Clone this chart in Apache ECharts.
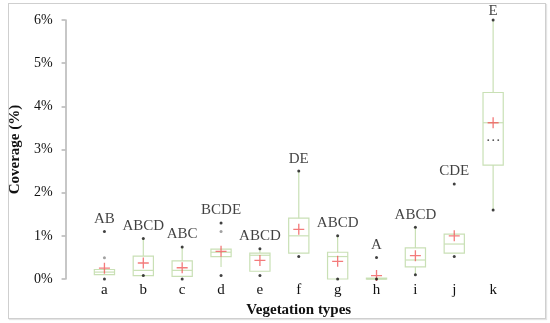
<!DOCTYPE html>
<html><head><meta charset="utf-8">
<script src="https://cdn.jsdelivr.net/npm/echarts@6/dist/echarts.min.js"></script>
<style>html,body{margin:0;padding:0;background:#fff}#frame{position:absolute;left:8px;top:3px;width:536px;height:314px;border:1px solid #cfcfcf;box-shadow:1px 1px 1px #e4e4e4}#c{width:550px;height:323px;position:absolute;left:0;top:0}</style>
</head><body><div id="frame"></div><div id="c"></div>
<script>
var categories = ['a','b','c','d','e','f','g','h','i','j','k'];
var whiskerLow  = [0.10, 0.08, 0.06, 0.28, 0.18, 0.60, 0.00, 0.00, 0.10, 0.60, 1.60];
var q1          = [0.10, 0.08, 0.06, 0.52, 0.18, 0.60, 0.00, 0.00, 0.28, 0.60, 2.64];
var median      = [0.16, 0.20, 0.20, 0.62, 0.55, 1.00, 0.52, 0.00, 0.44, 0.81, 3.62];
var q3          = [0.22, 0.53, 0.42, 0.69, 0.60, 1.41, 0.62, 0.02, 0.72, 1.04, 4.32];
var whiskerHigh = [0.22, 0.94, 0.74, 0.69, 0.70, 2.50, 1.00, 0.02, 1.20, 1.04, 6.00];
var mean        = [0.25, 0.37, 0.26, 0.64, 0.43, 1.15, 0.41, 0.08, 0.54, 1.00, 3.62];
var maxDot      = [1.10, 0.94, 0.74, 1.30, 0.70, 2.50, 1.00, 0.50, 1.20, 2.20, 6.00];
var minDot      = [0.00, 0.08, 0.00, 0.08, 0.08, 0.52, 0.00, 0.00, 0.10, 0.52, 1.60];
var grayDots    = [[1, 0.49], [4, 1.10]];
var groupLetters = ['AB','ABCD','ABC','BCDE','ABCD','DE','ABCD','A','ABCD','CDE','E'];
var extraMark   = [[11, 3.20]];
var yTicks = [0,1,2,3,4,5,6];

var boxData = categories.map(function(c,i){return [i+1, whiskerLow[i], q1[i], median[i], q3[i], whiskerHigh[i]];});
var meanData = categories.map(function(c,i){return [i+1, mean[i]];});
var dotData = [];
categories.forEach(function(c,i){dotData.push([i+1,maxDot[i]]);dotData.push([i+1,minDot[i]]);});
var letterData = categories.map(function(c,i){return {value:[i+1,maxDot[i]], label:{show:true, formatter:groupLetters[i], distance: i===10?1:5}};});

var boxColor = '#c9e0b5';
var chart = echarts.init(document.getElementById('c'));
chart.setOption({
  animation:false,
  grid:{left:63,right:18,top:20,bottom:44},
  xAxis:{type:'value',min:0,max:12,interval:1,
    axisLine:{show:false},axisTick:{show:false},splitLine:{show:false},
    axisLabel:{fontFamily:'Liberation Serif',fontSize:15,color:'#111',margin:4,
      formatter:function(v){return categories[v-1]||'';}},
    name:'Vegetation types',nameLocation:'middle',nameGap:16,
    nameTextStyle:{fontFamily:'Liberation Serif',fontSize:15,fontWeight:'bold',color:'#111'}},
  yAxis:{type:'value',min:0,max:6,interval:1,
    axisLine:{show:true,lineStyle:{color:'#b5b5b5',width:1.5}},
    axisTick:{show:true,length:4,lineStyle:{color:'#b5b5b5',width:1.5}},
    splitLine:{show:false},
    axisLabel:{fontFamily:'Liberation Serif',fontSize:14,color:'#111',margin:13,
      formatter:function(v){return v+'%';}},
    name:'Coverage (%)',nameLocation:'middle',nameGap:40,
    nameTextStyle:{fontFamily:'Liberation Serif',fontSize:15,fontWeight:'bold',color:'#111'}},
  series:[
    {type:'custom',data:boxData,z:2,
      renderItem:function(params,api){
        var x=api.value(0);
        var hw=api.size([1,0])[0]*0.26;
        var pL=api.coord([x,api.value(1)]),p1=api.coord([x,api.value(2)]),pm=api.coord([x,api.value(3)]),p3=api.coord([x,api.value(4)]),pH=api.coord([x,api.value(5)]);
        var st={stroke:boxColor,lineWidth:1.2,fill:null};
        var ch=[
          {type:'line',shape:{x1:pL[0],y1:pL[1],x2:p1[0],y2:p1[1]},style:st},
          {type:'line',shape:{x1:p3[0],y1:p3[1],x2:pH[0],y2:pH[1]},style:st},
          {type:'rect',shape:{x:p3[0]-hw,y:p3[1],width:2*hw,height:Math.max(p1[1]-p3[1],0.5)},style:{stroke:boxColor,lineWidth:1.2,fill:'rgba(255,255,255,0)'}},
          {type:'line',shape:{x1:pm[0]-hw,y1:pm[1],x2:pm[0]+hw,y2:pm[1]},style:st}
        ];
        return {type:'group',children:ch};
      }},
    {type:'scatter',data:meanData,z:4,symbol:'path://M4.4,0H5.6V4.4H10V5.6H5.6V10H4.4V5.6H0V4.4H4.4Z',symbolSize:11,itemStyle:{color:'#f05a5a'}},
    {type:'scatter',data:dotData,z:5,symbolSize:3,itemStyle:{color:'#111'}},
    {type:'scatter',data:grayDots,z:5,symbolSize:3,itemStyle:{color:'#8a8a8a'}},
    {type:'scatter',data:letterData,z:6,symbolSize:0,
      label:{show:true,position:'top',fontFamily:'Liberation Serif',fontSize:15,color:'#111'}},
    {type:'scatter',data:extraMark,z:6,symbolSize:0,
      label:{show:true,position:'inside',formatter:'···',fontFamily:'Liberation Serif',fontSize:15,color:'#222'}}
  ]
});
</script></body></html>
